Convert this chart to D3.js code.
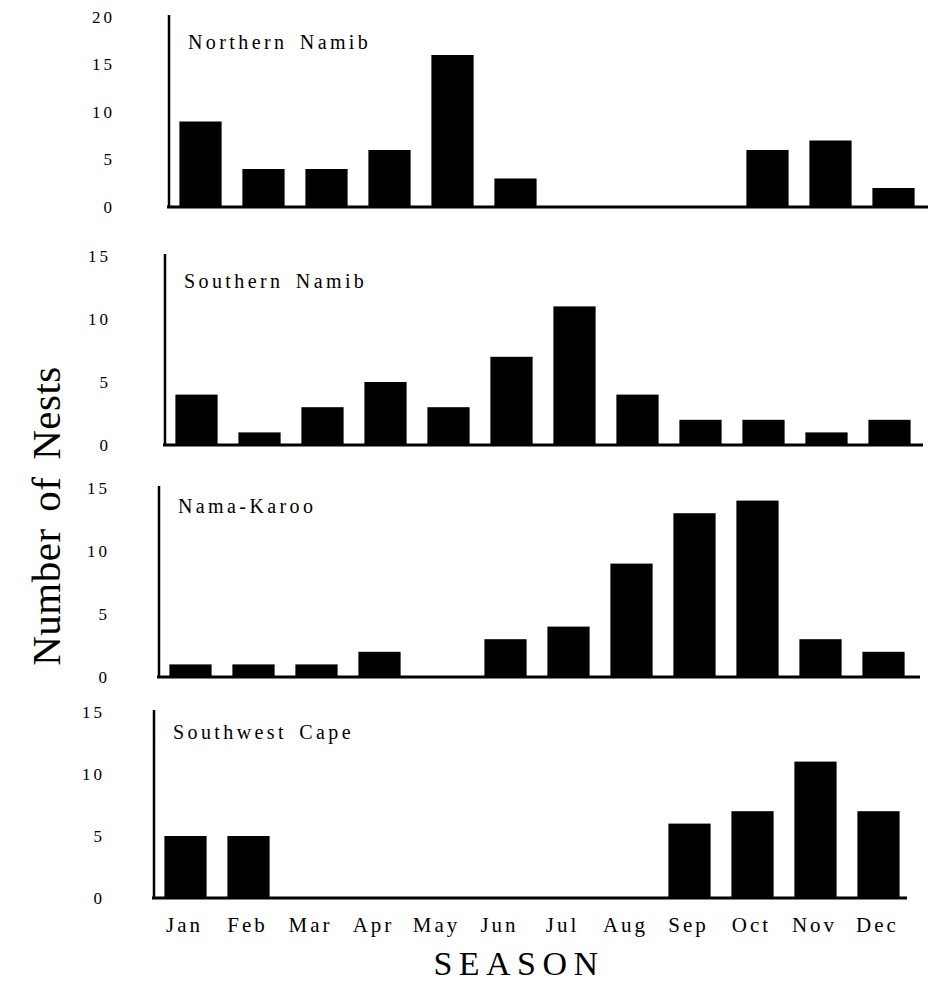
<!DOCTYPE html>
<html>
<head>
<meta charset="utf-8">
<script src="https://cdn.jsdelivr.net/npm/d3@7"></script>
<style>
  html, body { margin: 0; padding: 0; background: #fff; }
  svg { display: block; }
  text { font-family: "Liberation Serif", "DejaVu Serif", serif; fill: #000; }
</style>
</head>
<body>
<script>
// ---------- DATA ----------
const months = ["Jan","Feb","Mar","Apr","May","Jun","Jul","Aug","Sep","Oct","Nov","Dec"];
const regionNames = ["Northern Namib","Southern Namib","Nama-Karoo","Southwest Cape"];
const northernNamib = [9,4,4,6,16,3,0,0,0,6,7,2];
const southernNamib = [4,1,3,5,3,7,11,4,2,2,1,2];
const namaKaroo     = [1,1,1,2,0,3,4,9,13,14,3,2];
const southwestCape = [5,5,0,0,0,0,0,0,6,7,11,7];
const ticksNorth = [0,5,10,15,20];
const ticksOther = [0,5,10,15];
const yLabel = "Number of Nests";
const xLabel = "SEASON";

// ---------- LAYOUT ----------
const W = 944, H = 993;
const panels = [
  { name: regionNames[0], values: northernNamib, ticks: ticksNorth, max: 20, axisX: 169, y0: 207, yMax: 17,  lineEnd: 928, pad: 54, titleDy: 32 },
  { name: regionNames[1], values: southernNamib, ticks: ticksOther, max: 15, axisX: 165, y0: 445, yMax: 256, lineEnd: 923, pad: 54, titleDy: 32 },
  { name: regionNames[2], values: namaKaroo,     ticks: ticksOther, max: 15, axisX: 159, y0: 677, yMax: 488, lineEnd: 920, pad: 49, titleDy: 25 },
  { name: regionNames[3], values: southwestCape, ticks: ticksOther, max: 15, axisX: 154, y0: 898, yMax: 712, lineEnd: 907, pad: 49, titleDy: 27 }
];

const svg = d3.select("body").append("svg")
  .attr("width", W).attr("height", H);

let lastX = null;
panels.forEach((p) => {
  const x = d3.scaleBand()
    .domain(months)
    .range([p.axisX, p.axisX + 756])
    .paddingInner(0.33)
    .paddingOuter(0.165);
  const y = d3.scaleLinear()
    .domain([0, p.max])
    .range([p.y0, p.yMax]);
  lastX = x;

  const g = svg.append("g");

  // bars
  g.selectAll("rect.bar")
    .data(months.map((m, i) => ({ m, v: p.values[i] })))
    .join("rect")
    .attr("class", "bar")
    .attr("x", d => x(d.m))
    .attr("width", x.bandwidth())
    .attr("y", d => y(d.v))
    .attr("height", d => y(0) - y(d.v))
    .attr("fill", "#000");

  // baseline
  g.append("line")
    .attr("x1", p.axisX - 2).attr("x2", p.lineEnd)
    .attr("y1", y(0)).attr("y2", y(0))
    .attr("stroke", "#000").attr("stroke-width", 3);

  // y axis
  const ax = g.append("g")
    .attr("transform", `translate(${p.axisX},0)`)
    .call(d3.axisLeft(y).tickValues(p.ticks).tickSize(0).tickSizeOuter(0).tickPadding(p.pad));
  ax.select(".domain")
    .attr("stroke", "#000").attr("stroke-width", 2.5)
    .attr("d", `M0,${y(0) + 1}V${y(p.max) - 2}`);
  ax.selectAll(".tick text")
    .style("font-size", "17px")
    .style("letter-spacing", "3px")
    .attr("fill", "#000");

  // panel title
  g.append("text")
    .attr("x", p.axisX + 19)
    .attr("y", y(p.max) + p.titleDy)
    .style("font-size", "20px")
    .style("letter-spacing", "3.4px")
    .style("word-spacing", "4px")
    .text(p.name);
});

// month labels
const mx = svg.append("g")
  .attr("transform", `translate(0,915)`)
  .call(d3.axisBottom(lastX).tickSize(0).tickPadding(0));
mx.select(".domain").remove();
mx.selectAll(".tick text")
  .style("font-size", "21px")
  .style("letter-spacing", "3px")
  .attr("dy", "0.8em")
  .attr("dx", "-1px")
  .attr("fill", "#000");

// axis titles
svg.append("text")
  .attr("transform", "translate(60,516) rotate(-90)")
  .attr("text-anchor", "middle")
  .style("font-size", "41px")
  .style("letter-spacing", "0.5px")
  .style("word-spacing", "6px")
  .text(yLabel);

svg.append("text")
  .attr("x", 519).attr("y", 975)
  .attr("text-anchor", "middle")
  .style("font-size", "34px")
  .style("letter-spacing", "6.5px")
  .text(xLabel);
</script>
</body>
</html>
